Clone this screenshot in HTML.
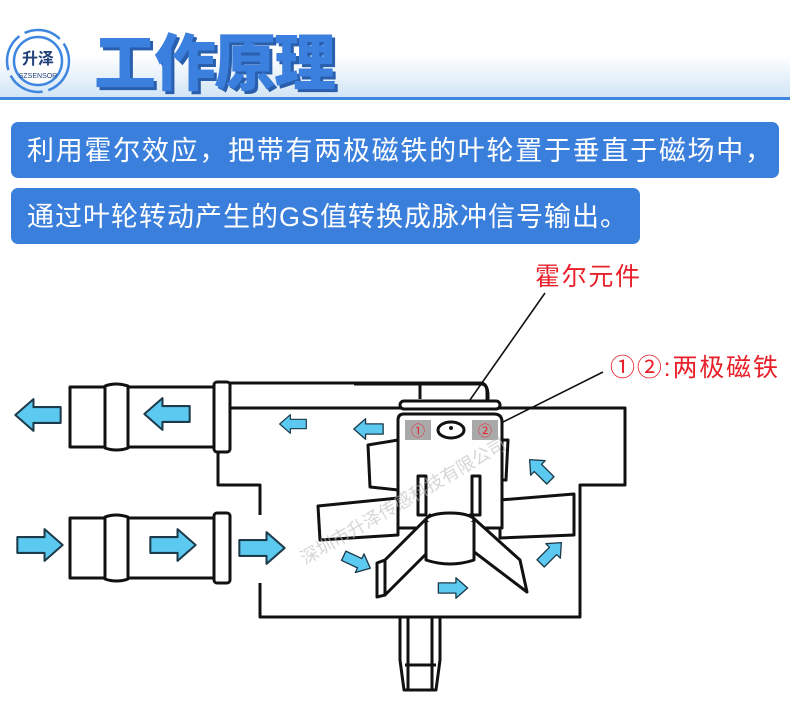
<!DOCTYPE html>
<html><head><meta charset="utf-8"><style>
html,body{margin:0;padding:0;background:#fff;}
svg{display:block;}
</style></head><body>
<svg width="790" height="722" viewBox="0 0 790 722" xmlns="http://www.w3.org/2000/svg">
<defs>
<linearGradient id="hb" x1="0" y1="0" x2="0" y2="1">
<stop offset="0" stop-color="#fff"/><stop offset="0.55" stop-color="#fff"/><stop offset="1" stop-color="#cfe3f5"/>
</linearGradient>
<symbol id="arr" viewBox="0 0 40 30" overflow="visible">
<path d="M0,15 L16,1 L16,8 L40,8 L40,22 L16,22 L16,29 Z" fill="#5ccaf0" stroke="#1d3a4a" stroke-width="1.8" stroke-linejoin="round"/>
</symbol>
</defs>
<rect x="0" y="0" width="790" height="100" fill="url(#hb)"/>
<rect x="0" y="97" width="790" height="3" fill="#3e86df"/>
<circle cx="38" cy="61" r="31" fill="none" stroke="#3e86df" stroke-width="2.5" stroke-dasharray="38 6"/>
<circle cx="38" cy="61" r="24" fill="#fff" stroke="#3e86df" stroke-width="2.5"/>
<text x="38" y="64" text-anchor="middle" font-family="Liberation Sans,'Noto Sans CJK SC',sans-serif" font-size="16" font-weight="bold" fill="#1f3f78">升泽</text>
<text x="38" y="78" text-anchor="middle" font-family="Liberation Sans,sans-serif" font-size="7" fill="#1f3f78">SZSENSOR</text>
<text x="97" y="88" font-family="Liberation Sans,'Noto Sans CJK SC',sans-serif" font-size="62" font-weight="900" fill="#2a5fae" textLength="242">工作原理</text>
<text x="94" y="85" font-family="Liberation Sans,'Noto Sans CJK SC',sans-serif" font-size="62" font-weight="900" fill="#3b80df" textLength="242">工作原理</text>
<rect x="11" y="122" width="768" height="56" rx="7" fill="#3b7fdc"/>
<rect x="11" y="188" width="629" height="56" rx="7" fill="#3b7fdc"/>
<text x="27" y="160" font-family="Liberation Sans,'Noto Sans CJK SC',sans-serif" font-size="27" fill="#fff" textLength="745">利用霍尔效应，把带有两极磁铁的叶轮置于垂直于磁场中，</text>
<text x="27" y="226" font-family="Liberation Sans,'Noto Sans CJK SC',sans-serif" font-size="27" fill="#fff" textLength="600">通过叶轮转动产生的GS值转换成脉冲信号输出。</text>
<text x="535" y="285" font-family="Liberation Sans,'Noto Sans CJK SC',sans-serif" font-size="25" fill="#e8202a" textLength="105">霍尔元件</text>
<text x="610" y="376" font-family="Liberation Sans,'Noto Sans CJK SC',sans-serif" font-size="25" fill="#e8202a" textLength="168">①②:两极磁铁</text>
<line x1="545" y1="293" x2="465" y2="407" stroke="#111" stroke-width="1.6"/>
<line x1="603" y1="372" x2="497" y2="425" stroke="#111" stroke-width="1.6"/>
<g fill="none" stroke="#111" stroke-width="3" stroke-linejoin="round">
<path d="M228,383 H480 Q487,383 487,392 V402"/>
<path d="M228,408 H625 V485 H580 V617 H260 V583"/>
<path d="M228,450 H218 V485 H260 V515"/>
<rect x="70" y="387" width="145" height="60" fill="#fff"/>
<path d="M105,386 Q116,382 128,386 V448 Q116,452 105,448 Z" fill="#fff"/>
<rect x="214" y="382" width="16" height="70" rx="3" fill="#fff"/>
<rect x="70" y="518" width="145" height="60" fill="#fff"/>
<path d="M105,517 Q116,513 128,517 V579 Q116,583 105,579 Z" fill="#fff"/>
<rect x="214" y="513" width="16" height="70" rx="3" fill="#fff"/>
<path d="M354,384 H481 Q488,384 488,396 V401"/>
<path d="M420,384 V399"/>
<rect x="400" y="401" width="100" height="8" rx="4" fill="#fff"/>
<path d="M400,617 V660 L404,690 H436 L440,660 V617"/>
<path d="M408,617 V690 M432,617 V690"/>
<path d="M405,665 H436"/>
<path d="M318,506 L398,498 V535 L320,540 Z" fill="#fff"/>
<path d="M500,500 L574,494 V535 L500,538 Z" fill="#fff"/>
<path d="M368,445 L398,440 V490 L370,487 Z" fill="#fff"/>
<path d="M500,440 L508,440 L506,480 L500,480 Z" fill="#fff"/>
<path d="M398,420 Q398,414 404,414 H494 Q502,414 502,422 V528 H398 Z" fill="#fff"/>
<path d="M418,476 V515 H426 V476 Z M472,476 V515 H480 V476 Z" fill="#fff"/>
<path d="M430,515 L385,560 L385,595 L435,545 Z" fill="#fff"/>
<path d="M470,515 L520,560 L527,592 L465,545 Z" fill="#fff"/>
<path d="M385,560 L377,563 V597 L385,595 Z" fill="#fff"/>
<ellipse cx="450" cy="520" rx="24" ry="7" fill="#fff"/>
<path d="M426,522 V560 Q450,568 474,560 V522" fill="#fff"/>
</g>
<rect x="405" y="420" width="26" height="20" fill="#a9a9a9"/>
<rect x="472" y="420" width="26" height="20" fill="#a9a9a9"/>
<text x="418" y="436" text-anchor="middle" font-family="Liberation Sans,'Noto Sans CJK SC',sans-serif" font-size="14" fill="#e8202a">①</text>
<text x="485" y="436" text-anchor="middle" font-family="Liberation Sans,'Noto Sans CJK SC',sans-serif" font-size="14" fill="#e8202a">②</text>
<ellipse cx="451" cy="430" rx="13" ry="8" fill="none" stroke="#111" stroke-width="3"/>
<circle cx="451" cy="428" r="2" fill="#111"/>
<use href="#arr" x="14" y="398" width="48" height="34"/>
<use href="#arr" x="143" y="397" width="48" height="34"/>
<use href="#arr" x="277" y="414" width="32" height="20"/>
<use href="#arr" x="352" y="418" width="33" height="22"/>
<use href="#arr" transform="translate(540,470) rotate(45) translate(-17,-11)" width="34" height="22"/>
<use href="#arr" transform="translate(40,545) rotate(180) translate(-24,-17)" width="48" height="34"/>
<use href="#arr" transform="translate(173,545) rotate(180) translate(-24,-17)" width="48" height="34"/>
<use href="#arr" transform="translate(262,548) rotate(180) translate(-24,-17)" width="48" height="34"/>
<use href="#arr" transform="translate(357,562) rotate(205) translate(-17,-11)" width="34" height="22"/>
<use href="#arr" transform="translate(453,588) rotate(180) translate(-17,-11)" width="34" height="22"/>
<use href="#arr" transform="translate(551,553) rotate(135) translate(-17,-11)" width="34" height="22"/>
<text x="305" y="565" transform="rotate(-30 305 565)" font-family="Liberation Sans,'Noto Sans CJK SC',sans-serif" font-size="18" fill="#bbb" opacity="0.6">深圳市升泽传感科技有限公司</text>
</svg>
</body></html>
